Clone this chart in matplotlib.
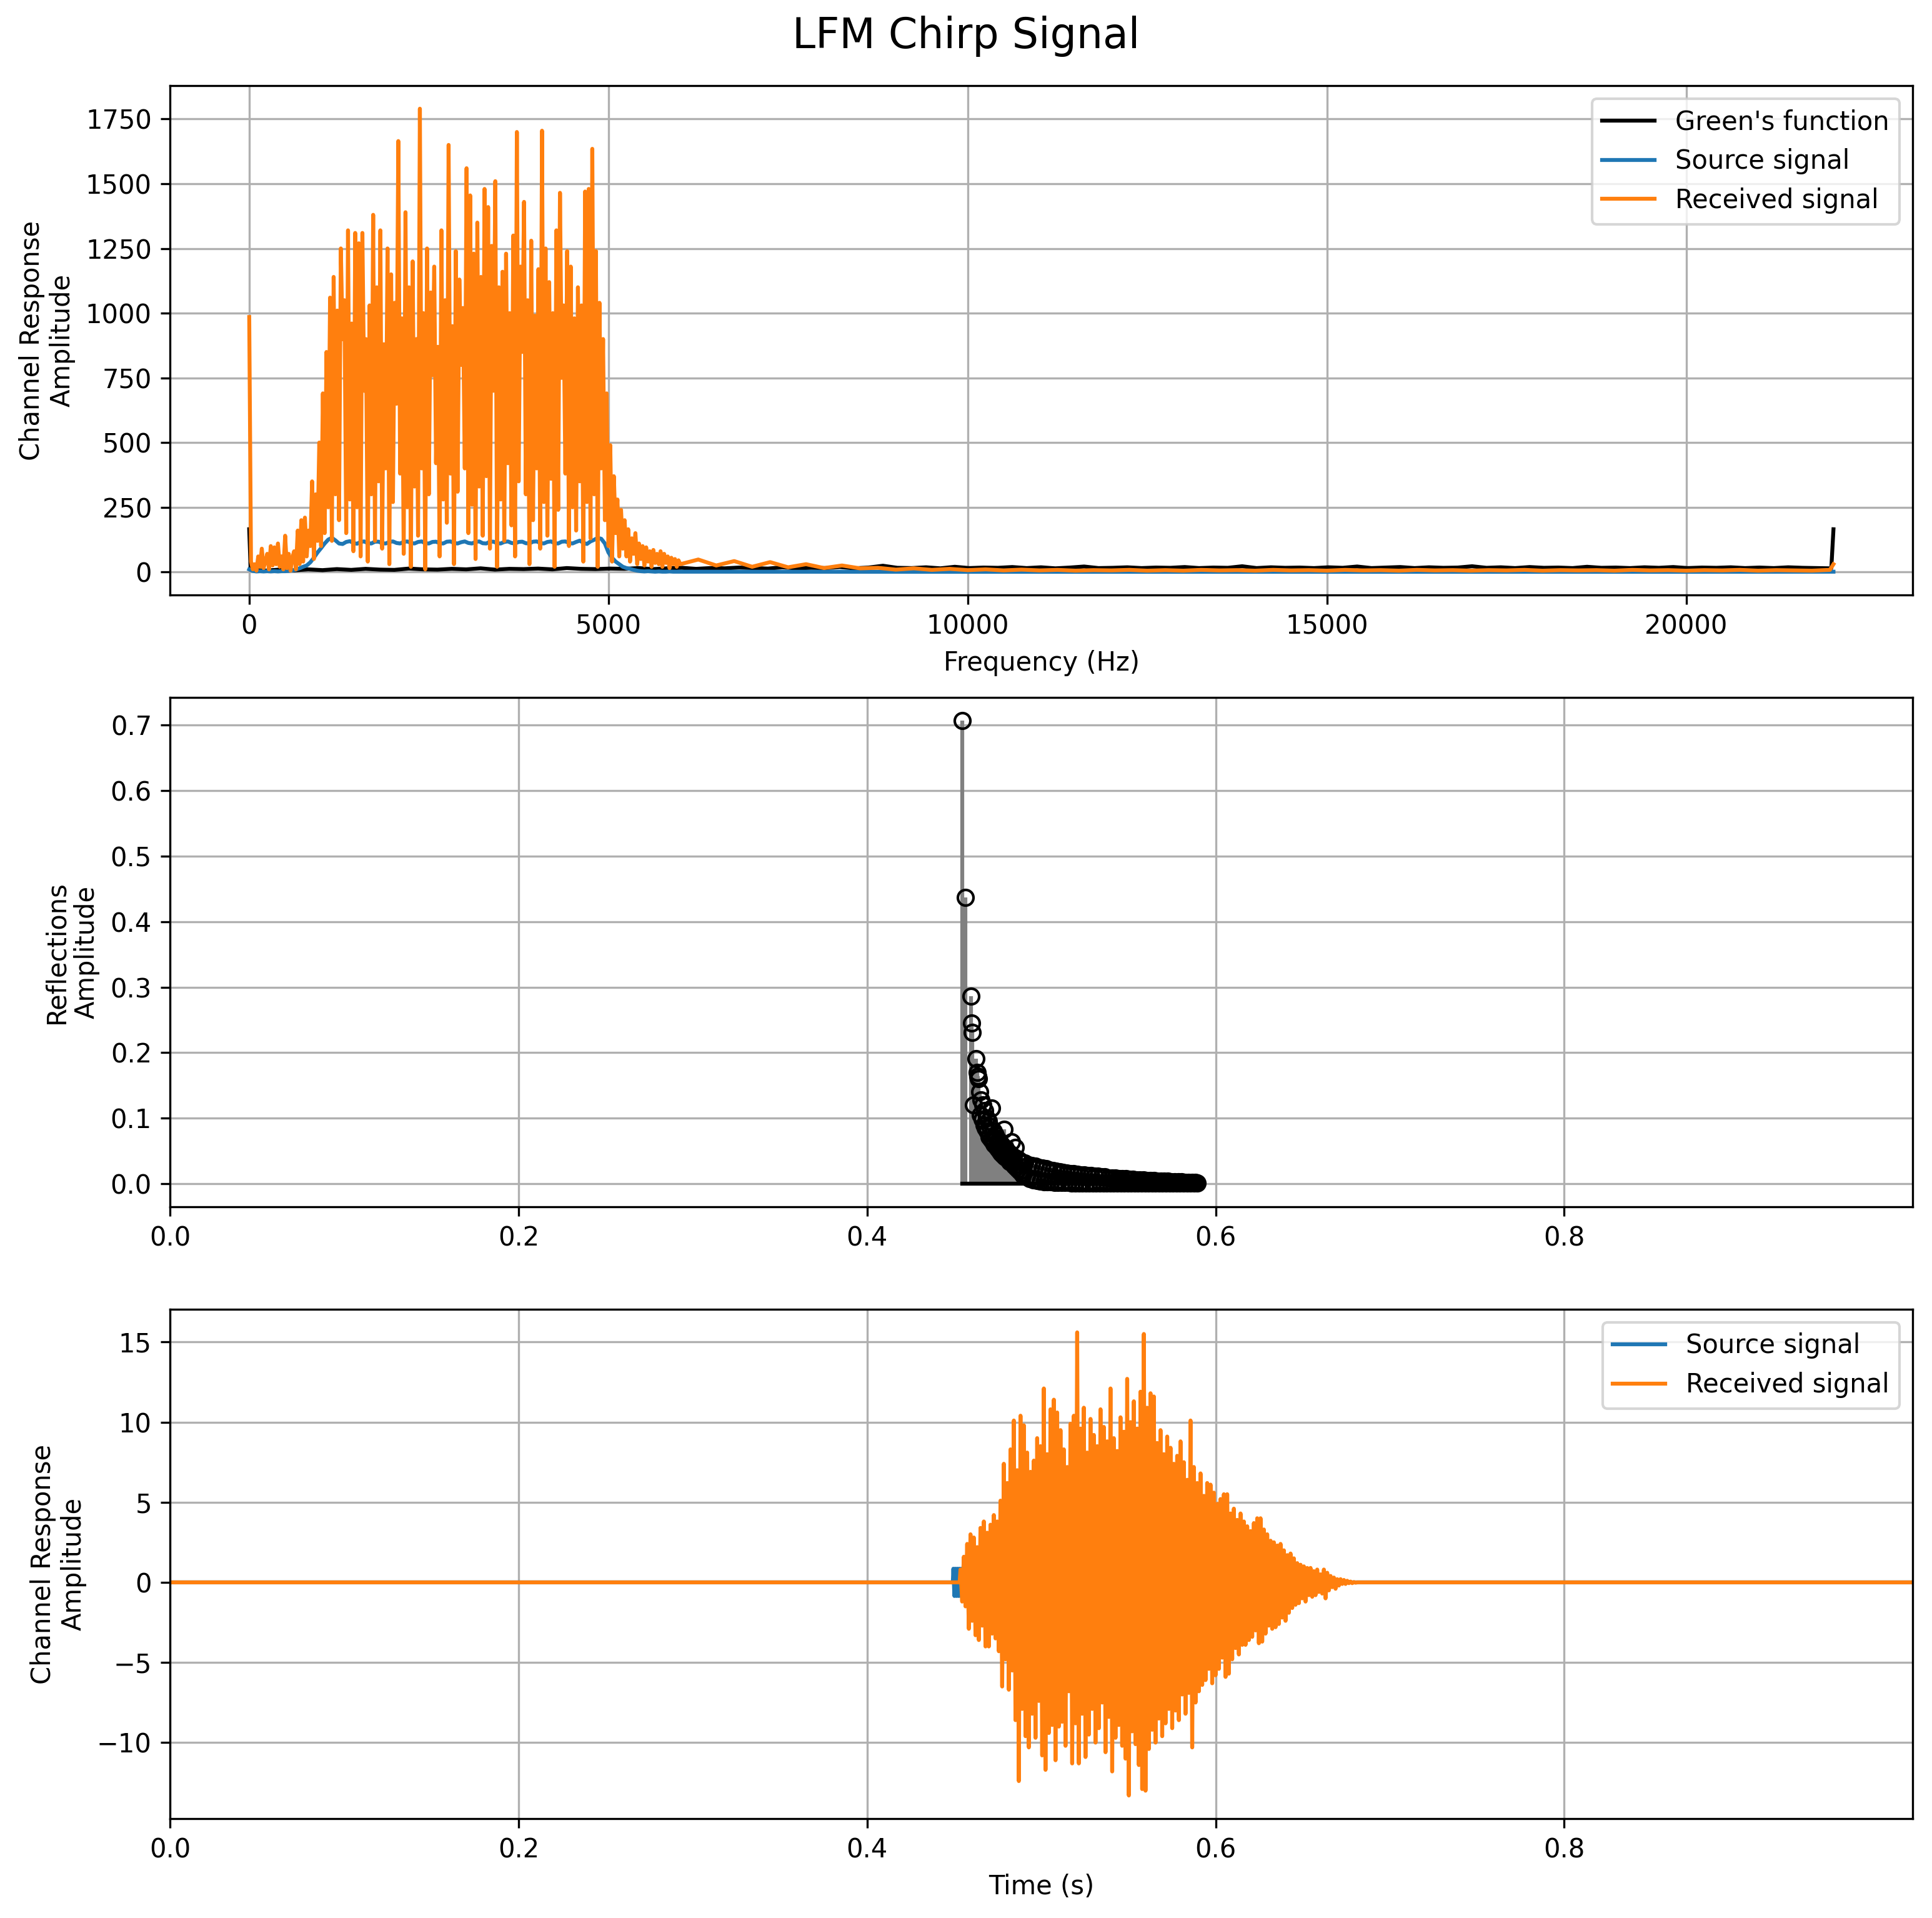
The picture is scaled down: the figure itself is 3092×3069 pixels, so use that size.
import numpy as np
import matplotlib
matplotlib.use("Agg")
import matplotlib.pyplot as plt

# ---- spectrum panel (Hz) ----
rx_spec_step = 25.0  # Hz between received-spectrum bins (0 .. 6000)
rx_spec_head = [
    985, 40, 10, 30, 5, 60, 20, 90, 15, 40,
    70, 10, 100, 25, 95, 30, 110, 20, 60, 10,
    140, 15, 70, 5, 55, 80, 10, 160, 30, 200,
    40, 210, 60, 160, 100, 350, 50, 300, 120, 500,
    100, 690, 150, 850, 250, 1060, 120, 1140, 300, 1010,
    200, 1250, 900, 1050, 150, 1320, 280, 960, 80, 1310,
    250, 1270, 60, 1310, 700, 900, 40, 1030, 300, 1380,
    120, 1100, 350, 1320, 90, 880, 400, 1250, 30, 1150,
    270, 1040, 650, 1665, 380, 980, 70, 1390, 250, 1100,
    20, 1200, 330, 900, 140, 1790, 400, 1000, 10, 1250,
    300, 1080, 760, 1180, 420, 870, 60, 1320, 280, 1050,
    190, 1650, 380, 950, 30, 1240, 310, 1130, 800, 1020,
    400, 1560, 150, 1455, 260, 1230, 50, 1350, 330, 1140,
    140, 1480, 370, 1410, 90, 1260, 700, 1510, 20, 1100,
    280, 1160, 120, 1230, 420, 1000, 180, 1300, 60, 1700,
    350, 1180, 850, 1430, 300, 1050, 30, 1280, 200, 990,
    400, 1170, 90, 1705, 270, 1250, 140, 1120, 360, 1000,
    20, 1320, 240, 1465, 750, 1030, 380, 1240, 100, 1180,
    250, 980, 160, 1100, 350, 1030, 40, 1470, 270, 1480,
    130, 1635, 300, 1240, 20, 1040, 400, 900, 200, 690,
    100, 490, 40, 370, 150, 280, 60, 240, 90, 200,
    60, 165, 40, 130, 70, 150, 30, 110, 50, 100,
    25, 95, 40, 80, 20, 85, 35, 70, 30, 80,
    20, 70, 35, 60, 15, 55, 30, 50, 20, 45,
    30,
]
rx_tail_step = 250.0  # Hz, tail bins 6250 .. 22000
rx_spec_tail = [
    48, 25, 42, 20, 38, 18, 30, 15, 25, 14,
    16, 9, 14, 8, 12, 7, 10, 6, 9, 6,
    8, 5, 7, 6, 8, 5, 7, 5, 8, 6,
    7, 5, 8, 6, 7, 5, 8, 6, 7, 5,
    8, 6, 7, 5, 7, 6, 8, 5, 7, 6,
    7, 5, 8, 6, 7, 5, 7, 6, 8, 5,
    7, 6, 5, 8,
]
rx_nyquist = 30

src_spec_step = 50.0  # Hz, 0 .. 6000
src_spec_head = [
    10, 4, 2, 3, 2, 3, 2, 3, 2, 3,
    3, 4, 6, 9, 14, 20, 25, 37, 55, 75,
    92, 110, 125, 132, 122, 110, 108, 116, 119, 112,
    109, 116, 118, 111, 110, 117, 117, 111, 110, 116,
    118, 112, 110, 116, 118, 112, 110, 116, 118, 111,
    110, 116, 117, 111, 110, 117, 118, 112, 110, 115,
    118, 112, 110, 116, 118, 111, 110, 117, 117, 111,
    110, 116, 118, 112, 110, 116, 117, 111, 110, 117,
    118, 112, 110, 116, 118, 111, 110, 117, 118, 112,
    110, 116, 121, 113, 108, 118, 124, 132, 128, 110,
    75, 55, 40, 30, 20, 15, 12, 8, 5, 3,
    2, 3, 2, 1, 2, 1, 1, 2, 1, 1,
    1,
]
src_tail_freq = [6500, 10000, 15000, 20000, 22050]
src_tail_vals = [1, 0.5, 0.5, 0.5, 1]

green_dc = 165
green_start = 20.0   # Hz of first noise bin
green_step = 200.0   # Hz, 20 .. 22020
green_spec = [
    8, 5, 9, 6, 10,
    7, 11, 8, 12, 9, 8, 13, 10, 9, 12,
    10, 14, 9, 12, 11, 13, 10, 15, 12, 11,
    13, 12, 15, 11, 14, 16, 12, 15, 14, 17,
    15, 13, 18, 14, 16, 15, 19, 14, 17, 24,
    16, 15, 18, 14, 20, 15, 17, 16, 19, 15,
    18, 14, 17, 21, 15, 16, 18, 15, 17, 16,
    19, 15, 17, 16, 22, 15, 18, 16, 17, 15,
    18, 16, 21, 15, 17, 19, 15, 18, 16, 17,
    22, 16, 18, 15, 19, 16, 17, 15, 20, 16,
    17, 15, 18, 16, 19, 15, 17, 16, 18, 15,
    17, 15, 18, 16, 15, 14,
]
green_nyquist = 165
nyquist = 22050.0

# ---- reflections (stem) ----
# isolated early arrivals
refl_early_t = [0.4545, 0.4564, 0.4597, 0.4600, 0.4602, 0.4612,
                0.4625, 0.4632, 0.4636, 0.4640]
refl_early_a = [0.707, 0.437, 0.286, 0.245, 0.231, 0.120,
                0.191, 0.170, 0.164, 0.160]
# dense cluster, 0.4645 .. 0.4895 every 0.5 ms
refl_mid_t0, refl_mid_dt = 0.4645, 0.0005
refl_mid_a = [
    0.140, 0.105, 0.128, 0.098, 0.120, 0.090, 0.112, 0.085, 0.100, 0.080,
    0.095, 0.072, 0.088, 0.068, 0.115, 0.064, 0.080, 0.060, 0.074, 0.057,
    0.070, 0.053, 0.066, 0.050, 0.062, 0.047, 0.058, 0.044, 0.083, 0.041,
    0.054, 0.039, 0.050, 0.036, 0.047, 0.033, 0.044, 0.064, 0.031, 0.041,
    0.028, 0.055, 0.025, 0.038, 0.022, 0.036, 0.019, 0.034, 0.016, 0.032,
    0.013,
]
# late tail, 0.4905 .. 0.5895 every 1 ms
refl_tail_t0, refl_tail_dt = 0.4905, 0.001
refl_tail_a = [
    0.031, 0.010, 0.029, 0.008, 0.028, 0.006, 0.027, 0.005, 0.025, 0.004,
    0.024, 0.003, 0.023, 0.003, 0.021, 0.003, 0.020, 0.002, 0.019, 0.002,
    0.018, 0.002, 0.017, 0.002, 0.016, 0.002, 0.015, 0.001, 0.015, 0.001,
    0.014, 0.001, 0.013, 0.001, 0.013, 0.001, 0.012, 0.001, 0.012, 0.001,
    0.011, 0.001, 0.011, 0.001, 0.010, 0.001, 0.010, 0.001, 0.009, 0.001,
    0.009, 0.001, 0.009, 0.001, 0.008, 0.001, 0.008, 0.001, 0.008, 0.001,
    0.007, 0.001, 0.007, 0.001, 0.006, 0.001, 0.006, 0.001, 0.006, 0.001,
    0.005, 0.001, 0.005, 0.001, 0.005, 0.001, 0.004, 0.001, 0.004, 0.001,
    0.004, 0.001, 0.004, 0.001, 0.003, 0.001, 0.003, 0.001, 0.003, 0.001,
    0.003, 0.001, 0.002, 0.001, 0.002, 0.001, 0.002, 0.001, 0.002, 0.001,
]

# ---- time signals ----
t_end = 0.99998
rx_t0 = 0.4536
rx_t1 = 0.6822
rx_wave = [
    0.8, -1.2, 1.6, -1.5, 2.4, -2.9, 3.0, -2.4, 2.8, -3.3,
    2.2, -3.6, 3.4, -2.7, 3.8, -4.0, 3.1, -4.0, 3.6, -3.2,
    4.2, -3.5, 3.8, -4.3, 5.1, -6.5, 7.4, -4.8, 6.2, -6.7,
    8.3, -5.5, 10.1, -8.6, 7.0, -12.4, 10.4, -7.9, 9.8, -9.6,
    8.1, -10.3, 6.9, -8.2, 7.6, -9.7, 9.0, -7.4, 8.5, -10.8,
    12.1, -11.7, 8.0, -9.4, 10.8, -8.9, 11.4, -11.1, 10.6, -9.0,
    9.5, -8.7, 8.3, -10.2, 7.2, -6.8, 9.9, -11.3, 10.4, -8.8,
    15.6, -11.3, 9.6, -8.2, 10.9, -10.9, 8.1, -9.5, 10.2, -7.9,
    9.2, -10.0, 8.5, -9.1, 10.8, -7.5, 9.7, -10.6, 8.8, -8.4,
    12.1, -11.8, 9.0, -9.7, 8.2, -8.9, 10.3, -10.2, 9.4, -11.0,
    12.7, -13.3, 10.0, -9.3, 11.3, -10.1, 9.6, -11.4, 11.9, -12.9,
    15.5, -13.0, 10.9, -10.4, 11.8, -9.2, 11.6, -10.0, 8.7, -8.5,
    9.5, -9.6, 8.0, -8.8, 9.1, -7.9, 8.4, -9.1, 7.4, -8.0,
    7.9, -8.6, 8.8, -7.0, 7.5, -8.2, 6.4, -6.9, 10.1, -10.3,
    7.2, -7.5, 6.2, -6.8, 6.8, -6.4, 5.4, -6.1, 6.2, -5.4,
    6.1, -6.3, 5.6, -5.8, 4.9, -5.4, 5.2, -4.7, 5.5, -5.9,
    5.5, -5.7, 4.3, -4.8, 4.6, -4.1, 3.9, -4.5, 4.3, -3.9,
    3.8, -3.9, 3.5, -3.6, 3.2, -3.4, 3.7, -3.0, 4.0, -3.8,
    4.0, -3.7, 3.3, -3.2, 3.0, -2.7, 2.6, -2.9, 2.5, -2.8,
    2.3, -2.6, 2.4, -2.2, 2.0, -2.4, 1.7, -1.9, 1.8, -1.6,
    1.5, -1.4, 1.2, -1.3, 1.1, -1.0, 1.0, -1.2, 0.9, -0.8,
    0.9, -0.9, 0.7, -0.8, 0.8, -0.6, 0.5, -0.7, 0.8, -1.0,
    0.6, -0.5, 0.4, -0.3, 0.3, -0.4, 0.2, -0.2, 0.2, -0.1,
    0.15, -0.1, 0.1, -0.05, 0.05, -0.05, 0.02, -0.02, 0.0, 0.0,
]
src_t0 = 0.4495
src_dt = 0.0006
src_wave = [
    0.85, -0.85, 0.85, -0.85, 0.85, -0.85, 0.85, -0.85, 0.85, -0.85,
    0.85, -0.85, 0.85, -0.85, 0.85, -0.85, 0.85, -0.85,
]

# ---- build arrays ----
rx_f = np.concatenate([
    np.arange(len(rx_spec_head)) * rx_spec_step,
    6000 + (np.arange(len(rx_spec_tail)) + 1) * rx_tail_step,
    [nyquist],
])
rx_mag = np.concatenate([rx_spec_head, rx_spec_tail, [rx_nyquist]])

src_f = np.concatenate([np.arange(len(src_spec_head)) * src_spec_step, src_tail_freq])
src_mag = np.concatenate([src_spec_head, src_tail_vals])

green_f = np.concatenate([[0.0], green_start + np.arange(len(green_spec)) * green_step, [nyquist]])
green_mag = np.concatenate([[green_dc], green_spec, [green_nyquist]])

refl_t = np.concatenate([
    refl_early_t,
    refl_mid_t0 + np.arange(len(refl_mid_a)) * refl_mid_dt,
    refl_tail_t0 + np.arange(len(refl_tail_a)) * refl_tail_dt,
])
refl_a = np.concatenate([refl_early_a, refl_mid_a, refl_tail_a])

rx_samples = np.linspace(rx_t0, rx_t1, len(rx_wave))
rx_time = np.concatenate([[0.0, rx_t0 - 0.0005], rx_samples, [rx_t1 + 0.0005, t_end]])
rx_sig = np.concatenate([[0.0, 0.0], rx_wave, [0.0, 0.0]])
src_samples = src_t0 + np.arange(len(src_wave)) * src_dt
src_time = np.concatenate([[0.0, src_t0 - 0.0003], src_samples,
                           [src_samples[-1] + 0.0003, t_end]])
src_sig = np.concatenate([[0.0, 0.0], src_wave, [0.0, 0.0]])

fig, axes = plt.subplots(3, 1, figsize=(3092 / 300, 3069 / 300))
fig.subplots_adjust(left=0.088, right=0.990, top=0.9554, bottom=0.0518, hspace=0.201)
fig.suptitle("LFM Chirp Signal", fontsize=16, y=0.992)

ax = axes[0]
ax.plot(green_f, green_mag, color="black", label="Green's function")
ax.plot(src_f, src_mag, color="tab:blue", label="Source signal")
ax.plot(rx_f, rx_mag, color="tab:orange", label="Received signal")
ax.set_xlabel("Frequency (Hz)")
ax.set_ylabel("Channel Response\nAmplitude")
ax.legend(loc="upper right")
ax.grid(True)

ax = axes[1]
markerline, stemlines, baseline = ax.stem(refl_t, refl_a, linefmt="grey",
                                          markerfmt="ko", basefmt="k-")
markerline.set_markerfacecolor("none")
ax.set_xlim(0, t_end)
ax.set_ylabel("Reflections\nAmplitude")
ax.grid(True)

ax = axes[2]
ax.plot(src_time, src_sig, color="tab:blue", label="Source signal")
ax.plot(rx_time, rx_sig, color="tab:orange", label="Received signal")
ax.set_xlim(0, t_end)
ax.set_xlabel("Time (s)")
ax.set_ylabel("Channel Response\nAmplitude")
ax.legend(loc="upper right")
ax.grid(True)

fig.savefig("out.png", dpi=300)
